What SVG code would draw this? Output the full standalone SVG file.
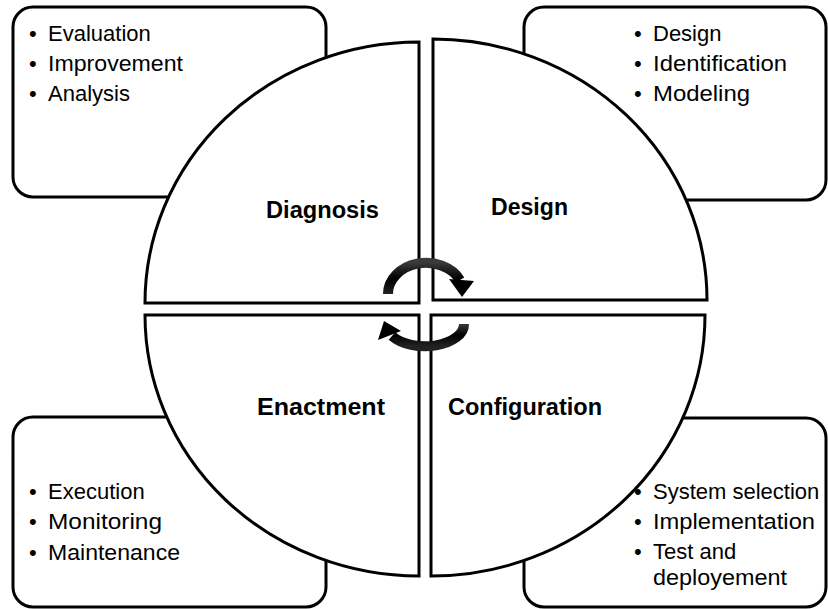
<svg xmlns="http://www.w3.org/2000/svg" width="828" height="609" viewBox="0 0 828 609">
<style>
.box{fill:#fff;stroke:#000;stroke-width:3}
.q{fill:#fff;stroke:#000;stroke-width:3;stroke-linejoin:miter}
.lbl{font-family:"Liberation Sans",Arial,sans-serif;font-weight:bold;font-size:23px;fill:#000}
.li{font-family:"Liberation Sans",Arial,sans-serif;font-size:22px;fill:#000}
.arc{fill:none;stroke:url(#ag);stroke-width:10}
</style>
<defs>
<linearGradient id="ag" x1="0" y1="0" x2="0" y2="1">
<stop offset="0" stop-color="#3a3a3a"/>
<stop offset="0.5" stop-color="#000"/>
<stop offset="1" stop-color="#222"/>
</linearGradient>
</defs>
<g id="box-diagnosis"><rect class="box" x="13" y="7" width="313" height="190" rx="20"/></g>
<g id="box-design"><rect class="box" x="524" y="7" width="302" height="193" rx="20"/></g>
<g id="box-enactment"><rect class="box" x="13" y="417" width="313" height="190" rx="20"/></g>
<g id="box-configuration"><rect class="box" x="524" y="418" width="302" height="189" rx="20"/></g>
<g id="diagnosis">
<path class="q" d="M419,303 L145,303 A274,261 0 0 1 419,42 Z"/>
<text class="lbl" x="266" y="218" textLength="113" lengthAdjust="spacingAndGlyphs">Diagnosis</text>
</g>
<g id="design">
<path class="q" d="M433,300 L433,39 A274,261 0 0 1 707,300 Z"/>
<text class="lbl" x="491" y="215" textLength="77" lengthAdjust="spacingAndGlyphs">Design</text>
</g>
<g id="enactment">
<path class="q" d="M419,315 L419,576 A274,261 0 0 1 145,315 Z"/>
<text class="lbl" x="257" y="415" textLength="128" lengthAdjust="spacingAndGlyphs">Enactment</text>
</g>
<g id="configuration">
<path class="q" d="M431,315 L705,315 A274,261 0 0 1 431,576 Z"/>
<text class="lbl" x="448" y="415" textLength="154" lengthAdjust="spacingAndGlyphs">Configuration</text>
</g>
<g id="connectors">
<path class="arc" d="M388,294 A38,31 0 0 1 460,280"/>
<polygon points="449,279 474,281 462,297" fill="#000"/>
<path class="arc" d="M464,324 A39,22 0 0 1 392,336"/>
<polygon points="384,321 401,331 378,340" fill="#000"/>
</g>
<g id="list-diagnosis" class="li">
<text x="29" y="41">•</text><text x="48" y="41">Evaluation</text>
<text x="29" y="71">•</text><text x="48" y="71" textLength="135" lengthAdjust="spacingAndGlyphs">Improvement</text>
<text x="29" y="101">•</text><text x="48" y="101">Analysis</text>
</g>
<g id="list-design" class="li">
<text x="634" y="41">•</text><text x="653" y="41">Design</text>
<text x="634" y="71">•</text><text x="653" y="71" textLength="134" lengthAdjust="spacingAndGlyphs">Identification</text>
<text x="634" y="101">•</text><text x="653" y="101" textLength="97" lengthAdjust="spacingAndGlyphs">Modeling</text>
</g>
<g id="list-enactment" class="li">
<text x="29" y="499">•</text><text x="48" y="499">Execution</text>
<text x="29" y="529">•</text><text x="48" y="529" textLength="114" lengthAdjust="spacingAndGlyphs">Monitoring</text>
<text x="29" y="560">•</text><text x="48" y="560" textLength="132" lengthAdjust="spacingAndGlyphs">Maintenance</text>
</g>
<g id="list-configuration" class="li">
<text x="634" y="499">•</text><text x="653" y="499">System selection</text>
<text x="634" y="529">•</text><text x="653" y="529" textLength="162" lengthAdjust="spacingAndGlyphs">Implementation</text>
<text x="634" y="559">•</text><text x="653" y="559">Test and</text>
<text x="653" y="585" textLength="134" lengthAdjust="spacingAndGlyphs">deployement</text>
</g>
</svg>
